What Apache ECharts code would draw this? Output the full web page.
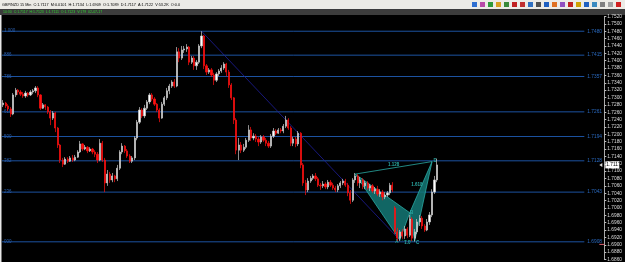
<!DOCTYPE html>
<html>
<head>
<meta charset="utf-8">
<script src="https://cdn.jsdelivr.net/npm/echarts@6/dist/echarts.min.js"></script>
<style>
  html, body { margin: 0; padding: 0; background: #000; }
  #chart { width: 625px; height: 262px; }
</style>
</head>
<body>
<div id="chart"></div>
<script>
// GBP/NZD 15 min, candles as [open, close, low, high]
const candles = [
  [1.7280,1.7285,1.7274,1.7293],[1.7285,1.7277,1.7271,1.7288],[1.7277,1.7269,1.7263,1.7282],[1.7269,1.7255,1.7247,1.7274],
  [1.7255,1.7307,1.7252,1.7312],[1.7307,1.7320,1.7301,1.7326],[1.7320,1.7315,1.7307,1.7323],[1.7315,1.7309,1.7304,1.7320],
  [1.7309,1.7304,1.7299,1.7315],[1.7304,1.7312,1.7299,1.7318],[1.7312,1.7307,1.7301,1.7315],[1.7307,1.7315,1.7304,1.7320],
  [1.7315,1.7318,1.7309,1.7323],[1.7318,1.7326,1.7312,1.7331],[1.7326,1.7307,1.7301,1.7331],[1.7307,1.7271,1.7266,1.7309],
  [1.7271,1.7280,1.7269,1.7285],[1.7280,1.7274,1.7266,1.7282],[1.7274,1.7261,1.7255,1.7277],[1.7261,1.7244,1.7225,1.7266],
  [1.7244,1.7258,1.7239,1.7263],[1.7258,1.7217,1.7206,1.7261],[1.7217,1.7171,1.7163,1.7220],[1.7171,1.7130,1.7122,1.7174],
  [1.7130,1.7119,1.7111,1.7136],[1.7119,1.7133,1.7117,1.7138],[1.7133,1.7127,1.7122,1.7138],[1.7127,1.7136,1.7125,1.7141],
  [1.7136,1.7130,1.7125,1.7144],[1.7130,1.7138,1.7127,1.7144],[1.7138,1.7152,1.7136,1.7157],[1.7152,1.7174,1.7149,1.7182],
  [1.7174,1.7160,1.7155,1.7176],[1.7160,1.7165,1.7157,1.7171],[1.7165,1.7155,1.7149,1.7168],[1.7155,1.7160,1.7152,1.7165],
  [1.7160,1.7152,1.7146,1.7163],[1.7152,1.7146,1.7138,1.7157],[1.7146,1.7130,1.7122,1.7152],[1.7130,1.7176,1.7127,1.7187],
  [1.7176,1.7130,1.7125,1.7182],[1.7130,1.7068,1.7043,1.7136],[1.7068,1.7092,1.7060,1.7103],[1.7092,1.7076,1.7068,1.7098],
  [1.7076,1.7087,1.7070,1.7095],[1.7087,1.7079,1.7070,1.7090],[1.7079,1.7108,1.7073,1.7117],[1.7108,1.7152,1.7103,1.7157],
  [1.7152,1.7168,1.7146,1.7176],[1.7168,1.7155,1.7149,1.7171],[1.7155,1.7141,1.7136,1.7160],[1.7141,1.7127,1.7122,1.7146],
  [1.7127,1.7136,1.7122,1.7141],[1.7136,1.7190,1.7130,1.7195],[1.7190,1.7233,1.7184,1.7239],[1.7233,1.7266,1.7228,1.7274],
  [1.7266,1.7250,1.7244,1.7271],[1.7250,1.7271,1.7244,1.7280],[1.7271,1.7288,1.7266,1.7293],[1.7288,1.7307,1.7282,1.7312],
  [1.7307,1.7296,1.7290,1.7312],[1.7296,1.7282,1.7277,1.7301],[1.7282,1.7266,1.7261,1.7285],[1.7266,1.7244,1.7233,1.7271],
  [1.7244,1.7282,1.7242,1.7288],[1.7282,1.7299,1.7277,1.7304],[1.7299,1.7318,1.7293,1.7326],[1.7318,1.7331,1.7309,1.7337],
  [1.7331,1.7342,1.7326,1.7347],[1.7342,1.7331,1.7326,1.7350],[1.7331,1.7424,1.7328,1.7437],[1.7424,1.7407,1.7396,1.7434],
  [1.7407,1.7429,1.7402,1.7440],[1.7429,1.7432,1.7421,1.7440],[1.7432,1.7437,1.7424,1.7445],[1.7437,1.7396,1.7388,1.7440],
  [1.7396,1.7407,1.7391,1.7413],[1.7407,1.7386,1.7375,1.7413],[1.7386,1.7396,1.7375,1.7402],[1.7396,1.7440,1.7391,1.7445],
  [1.7440,1.7467,1.7434,1.7480],[1.7467,1.7386,1.7377,1.7470],[1.7386,1.7369,1.7361,1.7391],[1.7369,1.7375,1.7364,1.7380],
  [1.7375,1.7361,1.7356,1.7380],[1.7361,1.7347,1.7334,1.7367],[1.7347,1.7364,1.7342,1.7369],[1.7364,1.7372,1.7358,1.7377],
  [1.7372,1.7380,1.7367,1.7388],[1.7380,1.7391,1.7375,1.7396],[1.7391,1.7369,1.7358,1.7394],[1.7369,1.7334,1.7326,1.7375],
  [1.7334,1.7299,1.7293,1.7339],[1.7299,1.7239,1.7228,1.7301],[1.7239,1.7157,1.7146,1.7244],[1.7157,1.7171,1.7130,1.7190],
  [1.7171,1.7157,1.7149,1.7179],[1.7157,1.7165,1.7152,1.7174],[1.7165,1.7184,1.7160,1.7190],[1.7184,1.7212,1.7179,1.7225],
  [1.7212,1.7190,1.7182,1.7220],[1.7190,1.7195,1.7184,1.7203],[1.7195,1.7187,1.7179,1.7201],[1.7187,1.7179,1.7168,1.7193],
  [1.7179,1.7193,1.7174,1.7198],[1.7193,1.7184,1.7179,1.7198],[1.7184,1.7176,1.7168,1.7190],[1.7176,1.7168,1.7163,1.7182],
  [1.7168,1.7195,1.7163,1.7201],[1.7195,1.7209,1.7190,1.7217],[1.7209,1.7203,1.7198,1.7214],[1.7203,1.7212,1.7201,1.7217],
  [1.7212,1.7209,1.7203,1.7217],[1.7209,1.7222,1.7203,1.7228],[1.7222,1.7239,1.7217,1.7250],[1.7239,1.7217,1.7212,1.7244],
  [1.7217,1.7176,1.7168,1.7222],[1.7176,1.7187,1.7168,1.7193],[1.7187,1.7174,1.7165,1.7193],[1.7174,1.7203,1.7168,1.7209],
  [1.7203,1.7117,1.7108,1.7206],[1.7117,1.7068,1.7060,1.7122],[1.7068,1.7049,1.7035,1.7076],[1.7049,1.7073,1.7043,1.7081],
  [1.7073,1.7081,1.7068,1.7087],[1.7081,1.7087,1.7076,1.7092],[1.7087,1.7079,1.7073,1.7095],[1.7079,1.7062,1.7057,1.7084],
  [1.7062,1.7060,1.7049,1.7068],[1.7060,1.7065,1.7054,1.7073],[1.7065,1.7057,1.7051,1.7070],[1.7057,1.7070,1.7051,1.7076],
  [1.7070,1.7062,1.7057,1.7076],[1.7062,1.7054,1.7049,1.7068],[1.7054,1.7049,1.7043,1.7060],[1.7049,1.7060,1.7043,1.7065],
  [1.7060,1.7068,1.7054,1.7073],[1.7068,1.7073,1.7062,1.7079],[1.7073,1.7062,1.7057,1.7079],[1.7062,1.7041,1.7032,1.7068],
  [1.7041,1.7021,1.7011,1.7049],[1.7021,1.7076,1.7016,1.7081],[1.7076,1.7087,1.7068,1.7095],[1.7087,1.7068,1.7060,1.7092],
  [1.7068,1.7076,1.7054,1.7084],[1.7076,1.7060,1.7051,1.7081],[1.7060,1.7068,1.7051,1.7073],[1.7068,1.7054,1.7049,1.7073],
  [1.7054,1.7060,1.7046,1.7065],[1.7060,1.7046,1.7041,1.7065],[1.7046,1.7051,1.7038,1.7057],[1.7051,1.7038,1.7032,1.7060],
  [1.7038,1.7043,1.7030,1.7051],[1.7043,1.7030,1.7021,1.7049],[1.7030,1.7035,1.7024,1.7043],[1.7035,1.7041,1.7030,1.7046],
  [1.7041,1.7062,1.7035,1.7068],[1.7062,1.7049,1.7043,1.7070],[1.7000,1.6935,1.6929,1.7005],[1.6935,1.6918,1.6910,1.6946],
  [1.6918,1.6935,1.6910,1.6940],[1.6935,1.6924,1.6916,1.6943],[1.6924,1.6943,1.6916,1.6951],[1.6943,1.6926,1.6918,1.6948],
  [1.6926,1.6970,1.6921,1.6981],[1.6970,1.6918,1.6910,1.6975],[1.6918,1.6935,1.6909,1.6943],[1.6935,1.6962,1.6929,1.6970],
  [1.6962,1.6972,1.6951,1.6981],[1.6972,1.6951,1.6943,1.6978],[1.6951,1.6940,1.6935,1.6956],[1.6940,1.6962,1.6937,1.6970],
  [1.6962,1.6981,1.6954,1.6989],[1.6981,1.7043,1.6975,1.7051],[1.7043,1.7076,1.7038,1.7087],[1.7076,1.7117,1.7070,1.7134]
];
const slotCount = 243;   // bars the visible window holds (empty space on the right)

// fibonacci retracement (drawn from the high to the low)
const fibRatios = ['1.000', '886', '786', '618', '500', '382', '236', '000'];
const fibPrices = [1.7480, 1.7415, 1.7357, 1.7261, 1.7194, 1.7128, 1.7043, 1.6908];
const trendIdx = [80, 160];
const trendPrice = [1.7480, 1.6913];

// harmonic pattern X A B C D
const patternNames = ['X', 'A', 'B', 'C', 'D'];
const patternIdx = [142, 160, 164, 166, 173];
const patternPrice = [1.7092, 1.6913, 1.6987, 1.6910, 1.7126];
const patternRatios = ['1.128', '1.618', '1.0'];

const lastClose = 1.7117;
const alertPrice = 1.6901;
const yMin = 1.6860, yMax = 1.7520, yStep = 0.002;

const headerText = 'GBP/NZD 15 Min  C:1.7117  M:0.0101  H:1.7134  L:1.6909  O:1.7089  D:1.7117  A:1.7122  V:53.2K  O:0.0';
const barText = '10:30  C:1.7117  H:1.7123  L:1.7111  O:1.7123  V:179  02-07-17';
const iconColors = ['#2f6fd0', '#b84aa8', '#2e9a3a', '#d8a020', '#3a8a3a', '#c02020', '#c03030', '#3070c0',
  '#505050', '#2060c0', '#e07020', '#9050c0', '#c02020', '#d0a000', '#2060c0', '#3a8ac0', '#808080', '#a0a0a0', '#d02020'];

const FONT = '"Liberation Sans Narrow", "Liberation Sans", sans-serif';
const FIB_BLUE = '#1c52a0';
const TEAL = '#2aa9a3';

const chart = echarts.init(document.getElementById('chart'));

const categories = Array.from({ length: slotCount }, (_, i) => String(i));

function fibItem(params, api) {
  const cs = params.coordSys;
  const y = api.coord([0, api.value(1)])[1];
  const k = api.value(2);
  const x2 = cs.x + cs.width - 20;
  return {
    type: 'group',
    children: [
      { type: 'line', shape: { x1: cs.x, y1: y, x2: x2, y2: y }, style: { stroke: FIB_BLUE, lineWidth: 1 } },
      { type: 'text', x: cs.x + 2, y: y, style: { text: fibRatios[k], fill: '#2a5fae', font: '4.5px ' + FONT, verticalAlign: 'middle' } },
      { type: 'text', x: x2 + 3, y: y, style: { text: fibPrices[k].toFixed(4), fill: '#2a6ac0', font: '4.8px ' + FONT, verticalAlign: 'middle' } }
    ]
  };
}

function patternItem(params, api) {
  const p = patternIdx.map((ix, k) => api.coord([ix, patternPrice[k]]));
  const [X, A, B, C, D] = p;
  const fill = 'rgba(20,120,118,0.85)';
  const txt = (s, pt, dx, dy, color) => ({
    type: 'text', x: pt[0] + dx, y: pt[1] + dy,
    style: { text: s, fill: color || TEAL, font: 'bold 4.5px ' + FONT, align: 'center', verticalAlign: 'middle' }
  });
  return {
    type: 'group',
    children: [
      { type: 'polygon', shape: { points: [X, A, B] }, style: { fill: fill, stroke: TEAL, lineWidth: 0.8 } },
      { type: 'polygon', shape: { points: [B, C, D] }, style: { fill: fill, stroke: TEAL, lineWidth: 0.8 } },
      { type: 'line', shape: { x1: X[0], y1: X[1], x2: D[0], y2: D[1] }, style: { stroke: TEAL, lineWidth: 0.8 } },
      { type: 'line', shape: { x1: A[0], y1: A[1], x2: C[0], y2: C[1] }, style: { stroke: TEAL, lineWidth: 0.6, lineDash: [1, 1] } },
      txt(patternRatios[0], [(X[0] + D[0]) / 2, (X[1] + D[1]) / 2], 0, -3),
      txt(patternRatios[1], [(B[0] + D[0]) / 2, (B[1] + D[1]) / 2], -4, -2),
      txt(patternRatios[2], [(A[0] + C[0]) / 2, (A[1] + C[1]) / 2], 0, 2),
      txt(patternNames[1], A, -3, 2),
      txt(patternNames[2], B, 2, 0),
      txt(patternNames[3], C, 3, 2),
      txt(patternNames[4], D, 3, -1)
    ]
  };
}

function tagItem(params, api) {
  const cs = params.coordSys;
  const xr = cs.x + cs.width;
  const y = api.coord([0, api.value(1)])[1];
  if (api.value(2) === 1) {
    return { type: 'line', shape: { x1: xr - 5, y1: y, x2: xr, y2: y }, style: { stroke: '#e06070', lineWidth: 1 } };
  }
  return {
    type: 'group',
    children: [
      { type: 'polygon', shape: { points: [[xr - 5, y], [xr - 2, y - 2], [xr - 2, y + 2]] }, style: { fill: '#dddddd' } },
      { type: 'rect', shape: { x: xr + 1, y: y - 3.5, width: 14, height: 7 }, style: { fill: '#ffffff' } },
      { type: 'text', x: xr + 2, y: y, style: { text: api.value(1).toFixed(4), fill: '#000', font: '4.8px ' + FONT, verticalAlign: 'middle' } }
    ]
  };
}

const graphics = [
  { type: 'rect', left: 0, top: 0, shape: { width: 625, height: 9 }, style: { fill: '#ecebe6' } },
  { type: 'rect', left: 0, top: 9, shape: { width: 625, height: 6 }, style: { fill: '#3c3c3c' } },
  { type: 'text', left: 2, top: 2.5, style: { text: headerText, fill: '#000', font: '3.8px ' + FONT } },
  { type: 'text', left: 3, top: 10.5, style: { text: barText, fill: '#30d030', font: '3.5px ' + FONT } },
  { type: 'rect', left: 0, top: 15, shape: { width: 1.5, height: 247 }, style: { fill: '#e8e8e8' } }
];
iconColors.forEach((c, k) => {
  graphics.push({ type: 'rect', left: 472 + k * 8, top: 2, shape: { width: 5, height: 5 }, style: { fill: c } });
});

chart.setOption({
  backgroundColor: '#000',
  animation: false,
  graphic: graphics,
  grid: { left: 2, right: 16, top: 16.5, bottom: 2.5 },
  xAxis: {
    type: 'category',
    data: categories,
    boundaryGap: true,
    show: false
  },
  yAxis: {
    type: 'value',
    position: 'right',
    min: yMin,
    max: yMax,
    interval: yStep,
    axisLine: { show: true, lineStyle: { color: '#bdbdbd', width: 1, type: [1, 1] } },
    axisTick: { show: true, length: 2, lineStyle: { color: '#bdbdbd' } },
    axisLabel: {
      color: '#dcdcdc', fontSize: 4.8, fontFamily: FONT, margin: 3,
      formatter: v => v.toFixed(4)
    },
    splitLine: { show: false }
  },
  series: [
    {
      type: 'custom',
      name: 'fib',
      renderItem: fibItem,
      data: fibPrices.map((p, k) => [0, p, k]),
      clip: false,
      silent: true,
      z: 1
    },
    {
      type: 'line',
      name: 'trend',
      data: trendIdx.map((ix, k) => [ix, trendPrice[k]]),
      symbol: 'none',
      lineStyle: { color: '#1e1e9a', width: 0.8 },
      silent: true,
      z: 2
    },
    {
      type: 'custom',
      name: 'pattern',
      renderItem: patternItem,
      data: [[patternIdx[0], patternPrice[0]]],
      clip: false,
      silent: true,
      z: 3
    },
    {
      type: 'candlestick',
      name: 'GBP/NZD',
      data: candles,
      barWidth: 1.7,
      itemStyle: {
        color: '#ffffff',
        color0: '#ff1010',
        borderColor: '#c8c8c8',
        borderColor0: '#ff1010',
        borderWidth: 0.7
      },
      silent: true,
      z: 4
    },
    {
      type: 'custom',
      name: 'tags',
      renderItem: tagItem,
      data: [[0, lastClose, 0], [0, alertPrice, 1]],
      clip: false,
      silent: true,
      z: 5
    }
  ]
});
</script>
</body>
</html>
